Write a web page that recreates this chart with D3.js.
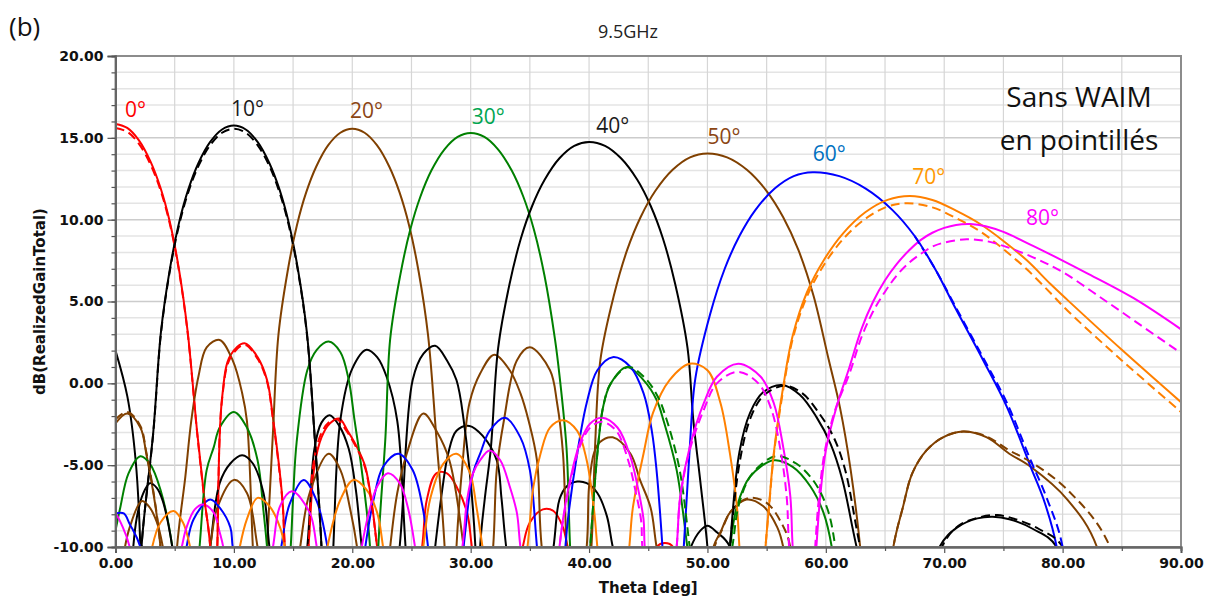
<!DOCTYPE html>
<html><head><meta charset="utf-8">
<script src="https://cdn.jsdelivr.net/npm/d3@7"></script>
<style>body{margin:0;background:#fff}svg{display:block}</style>
</head><body>
<svg id="c" width="1211" height="600"></svg>
<script>
// ---- data (theta [deg], dB); -20 marks a null below the axis ----
const thetaTicks = [0,10,20,30,40,50,60,70,80,90];
const dbTicks = [-10,-5,0,5,10,15,20];
const beamLabels = ["0°","10°","20°","30°","40°","50°","60°","70°","80°"];
const labelTheta = [0.8,9.75,19.8,30.1,40.6,50.0,58.9,67.3,76.9];
const labelDb = [16.27,16.33,16.2,15.85,15.3,14.6,13.6,12.2,9.7];

const red0 = [[0,15.85],[0.99,15.61],[1.98,14.85],[2.96,13.55],[3.8,11.95],[4.56,9.95],[5.32,7.15],[6.08,3.25],[6.9,-3],[7.5,-7],[8.0,-10],[8.3,-20],[8.6,-10],[9.0,-0.9],[9.7,1.7],[10.9,2.45],[12.0,1.6],[12.8,0.2],[13.3,-2.1],[14.1,-7.1],[14.3,-10],[15.3,-20],[16.3,-10],[16.8,-5.1],[17.4,-3.3],[18.1,-2.45],[18.9,-2.15],[19.6,-2.9],[20.4,-3.9],[21.1,-5.1],[21.7,-7.6],[22.1,-10],[24,-20],[25.9,-10],[26.3,-7.1],[27.1,-5.5],[28,-5.5],[28.8,-6.3],[29.7,-7.9],[30.1,-10],[32,-20],[34.4,-10],[35,-8.5],[36.1,-7.7],[37,-7.8],[37.8,-8.8],[38.2,-10],[42,-20],[45.7,-10],[46.4,-9.76],[47.1,-10],[48,-20]];
const red0Dash = [[0,15.6],[0.99,15.37],[1.98,14.63],[2.96,13.37],[3.8,11.8],[4.56,9.83],[5.32,7.05],[6.08,3.18],[6.9,-3.05],[7.5,-7.05],[8.0,-10],[8.3,-20],[8.6,-10],[9.0,-1.0],[9.7,1.55],[10.9,2.35],[12.0,1.5],[12.8,0.1],[13.3,-2.2],[14.1,-7.2],[14.3,-10],[15.3,-20],[16.3,-10],[16.7,-5.0],[17.3,-3.2],[18.0,-2.4],[18.7,-2.2],[19.5,-2.9],[20.4,-4.0],[21.1,-5.2],[21.7,-7.7],[22.1,-10],[24,-20]];

const black10 = [[0,2.0],[1.0,-0.8],[1.7,-4.7],[2.1,-10],[2.15,-13],[2.2,-10],[3.2,-2.9],[3.84,3.15],[4.61,7.05],[5.38,9.85],[6.15,11.85],[7.0,13.45],[8.0,14.75],[9.0,15.51],[10,15.75],[11,15.51],[12,14.75],[13,13.45],[13.85,11.85],[14.62,9.85],[15.39,7.05],[16.16,3.15],[16.8,-3.0],[17.4,-10],[17.9,-20],[18.4,-10],[19.0,-2.2],[20.0,0.9],[21.2,2.05],[22.1,1.6],[22.9,0.4],[23.8,-2.3],[24.5,-10],[25.5,-20],[27.0,-10],[27.6,-6.5],[28.1,-4.3],[28.8,-2.9],[29.9,-2.6],[31,-3.2],[32.2,-4.7],[32.6,-7],[33,-10],[35,-20],[37,-10],[37.5,-7.1],[38.1,-6.3],[39,-6.0],[39.8,-6.1],[40.7,-6.7],[41.5,-8.1],[42,-10],[45,-20],[48.6,-10],[49.4,-9.0],[50.0,-8.7],[50.8,-9.1],[51.9,-10],[53,-20]];
const black10Dash = [[2.15,-13],[2.2,-10],[3.2,-2.95],[3.84,3.05],[4.61,6.95],[5.38,9.7],[6.15,11.68],[7.0,13.27],[8.0,14.56],[9.0,15.31],[10,15.55],[11,15.31],[12,14.56],[13,13.27],[13.85,11.68],[14.62,9.7],[15.39,6.95],[16.16,3.05],[16.8,-3.05],[17.4,-10],[17.9,-20]];
const black40 = [[1.5,-10],[1.8,-8.2],[2.3,-6.8],[2.9,-6.1],[3.5,-6.4],[4.0,-7.2],[4.8,-10],[6.4,-20],[8.0,-10],[8.8,-6.1],[9.7,-4.9],[10.7,-4.4],[11.6,-4.9],[12.5,-6.7],[13,-10],[14.6,-20],[16.2,-10],[16.8,-4.0],[17.4,-2.4],[18.1,-1.95],[18.9,-2.6],[19.7,-4.0],[20.3,-6.5],[20.8,-10],[22.4,-20],[24,-10],[25.1,0.2],[26,1.8],[27,2.3],[28,1.4],[28.8,0.2],[29.4,-2.2],[30.4,-10],[30.6,-20],[30.8,-10],[31.2,-7],[31.7,-4],[32.32,2.15],[33.28,6.05],[34.24,8.85],[35.2,10.85],[36.26,12.45],[37.5,13.75],[38.75,14.51],[40,14.75],[41.35,14.51],[42.7,13.75],[44.06,12.45],[45.2,10.85],[46.24,8.85],[47.28,6.05],[48.32,2.15],[48.8,-2.2],[49.4,-6],[50,-10],[51,-20],[51.9,-10],[52.7,-4.2],[53.6,-1.8],[54.7,-0.55],[56.3,-0.1],[57.8,-0.7],[59.2,-2.05],[60.4,-3.7],[61.4,-5.9],[62.6,-10],[66,-20],[69.6,-10],[71.1,-8.8],[72.8,-8.25],[74.1,-8.15],[75.5,-8.3],[77.5,-8.9],[79.5,-10],[82,-20]];
const black40Dash = [[51,-20],[51.9,-10],[52.8,-4.5],[53.7,-2.0],[54.8,-0.7],[56.5,-0.15],[58,-0.6],[59.4,-1.8],[60.6,-3.2],[61.6,-5.2],[62.9,-10],[66,-20],[69.8,-10],[71.2,-8.7],[72.9,-8.2],[74.5,-8.05],[76,-8.3],[78,-8.9],[80,-10],[82,-20]];

const brown20 = [[0,-2.45],[1.0,-1.85],[2.1,-2.7],[2.6,-4.3],[3.2,-6.7],[3.8,-10],[4.5,-20],[5.2,-10],[5.9,-5.7],[6.4,-2.3],[7.0,0.4],[7.7,2.2],[8.8,2.65],[9.9,1.4],[10.7,-0.6],[11.1,-2.3],[11.6,-10],[12.2,-20],[12.8,-10],[13.3,-3],[13.76,2.95],[14.54,6.85],[15.32,9.65],[16.1,11.65],[16.96,13.25],[17.97,14.55],[18.99,15.31],[20,15.55],[21.04,15.31],[22.08,14.55],[23.12,13.25],[24.0,11.65],[24.8,9.65],[25.6,6.85],[26.4,2.95],[27.1,-3.3],[27.8,-10],[28.3,-20],[28.8,-10],[29.3,-5],[29.9,-1.2],[30.8,0.6],[32,1.75],[33.3,0.8],[34.2,-0.6],[34.9,-2.3],[35.6,-4.7],[36,-10],[38,-20],[39.8,-10],[40,-6.3],[40.4,-4.3],[40.9,-3.6],[42,-3.3],[43.5,-4.3],[44.3,-5.9],[45.2,-7.6],[45.7,-10],[48,-20],[50.5,-10],[51.1,-9.1],[51.9,-7.9],[53.3,-7.1],[54.7,-7.5],[55.9,-8.8],[56.4,-10],[58,-20]];
const brown20Dash = [[0,-2.2],[1.0,-1.75],[2.1,-2.6],[2.6,-4.2],[3.2,-6.6],[3.8,-10],[4.5,-20],[48,-20],[50.6,-10],[51.2,-9.0],[52,-7.8],[53.5,-7.0],[55,-7.3],[56.3,-8.6],[57,-10],[58,-20]];
const brown50 = [[0.8,-10],[1.2,-8.8],[2.2,-7.2],[2.8,-7.5],[3.5,-8.5],[4.0,-10],[6,-20],[8,-10],[8.6,-7.6],[10,-5.9],[11.1,-6.7],[12,-10],[14,-20],[15.6,-10],[16.4,-6.7],[18,-4.3],[19,-5.3],[19.8,-7.6],[20.4,-10],[21.8,-20],[23.2,-10],[23.8,-6.7],[24.6,-4.3],[26,-1.85],[27.1,-2.9],[28.2,-4.7],[29.4,-10],[30.6,-20],[31.9,-10],[32.2,-5.3],[32.8,-2.3],[33.9,1.4],[35,2.2],[36.7,0.8],[37.3,-1.2],[37.8,-4.3],[38.1,-10],[39,-20],[40.2,-10],[40.5,-4],[40.96,1.45],[42.09,5.35],[43.22,8.15],[44.35,10.15],[45.59,11.75],[47.06,13.05],[48.53,13.81],[50,14.05],[51.66,13.81],[53.33,13.05],[55.0,11.75],[56.4,10.15],[57.68,8.15],[58.96,5.35],[60.24,1.45],[61.2,-1.5],[62.1,-5.3],[62.9,-10],[64,-20],[65.7,-10],[66.5,-7.6],[67.3,-5.5],[68.5,-4.1],[69.9,-3.3],[71.6,-2.95],[73.6,-3.3],[75.5,-4.3],[77.3,-5.1],[80.4,-7.1],[82.9,-10],[85,-20]];
const brown50Dash = [[64,-20],[65.7,-10],[66.5,-7.6],[67.3,-5.5],[68.5,-4.1],[69.9,-3.3],[71.6,-2.95],[73.6,-3.25],[75.5,-4.1],[77.3,-4.8],[80.4,-6.5],[84,-10],[86,-20]];

const green30 = [[0,-9.0],[0.4,-7.6],[1.1,-5.5],[2.1,-4.45],[2.9,-4.9],[3.8,-6.5],[4.8,-10],[6,-20],[7.1,-10],[7.7,-5.3],[8.3,-3.9],[8.8,-2.7],[10,-1.75],[11.1,-2.7],[12,-4.7],[12.5,-7.8],[12.8,-10],[13.8,-20],[14.8,-10],[15.0,-7],[15.3,-3.6],[16.2,0.8],[17,2.05],[18,2.55],[19,1.9],[19.7,0.2],[20.2,-2.3],[20.8,-5.3],[21.5,-10],[21.9,-20],[22.2,-10],[22.8,-3.3],[23.2,2.7],[24.05,6.6],[24.9,9.4],[25.75,11.4],[26.68,13.0],[27.79,14.3],[28.9,15.06],[30,15.3],[31.16,15.06],[32.31,14.3],[33.47,13.0],[34.45,11.4],[35.34,9.4],[36.23,6.6],[37.12,2.7],[37.5,0.5],[38.1,-4],[38.4,-10],[39.2,-20],[40.1,-10],[40.7,-4.3],[41.2,-1.4],[41.8,-0.05],[43.2,1.0],[44.6,0.2],[45.7,-1.0],[46.3,-2.3],[47.4,-5.3],[48.3,-10],[50,-20],[51.9,-10],[52.5,-7.5],[53.6,-5.7],[55.6,-4.7],[57.2,-5.1],[58.7,-6.3],[59.8,-7.9],[60.5,-10],[62,-20]];
const green30Dash = [[39.2,-20],[40.1,-10],[40.7,-4.3],[41.2,-1.4],[41.8,-0.05],[43.3,1.0],[44.7,0.35],[45.8,-0.8],[46.5,-2.1],[47.6,-5.1],[48.5,-10],[50,-20],[52.1,-10],[52.7,-7.3],[53.8,-5.5],[55.8,-4.45],[57.5,-4.9],[59,-6.0],[60.1,-7.6],[60.8,-10],[62,-20]];

const blue60 = [[0,-7.95],[0.7,-7.95],[1.2,-8.6],[2.1,-10],[4,-20],[6,-10],[6.6,-8.3],[8,-7.1],[8.8,-7.6],[9.7,-8.8],[9.9,-10],[12,-20],[14.0,-10],[14.7,-7.4],[15.9,-5.9],[17,-7.2],[17.9,-10],[19.5,-20],[21.1,-10],[21.8,-7.1],[22.6,-5.1],[23.9,-4.3],[25.1,-5.3],[26,-7.8],[26.4,-10],[28,-20],[29.4,-10],[30.2,-5.5],[30.8,-4.3],[31.6,-2.9],[32.9,-2.1],[34.2,-3.3],[35,-5.3],[35.6,-10],[36.8,-20],[38,-10],[38.2,-8.4],[39,-4.3],[39.8,-1.2],[40.7,0.8],[42,1.6],[43.5,1.0],[44.6,-0.6],[45.3,-2.9],[45.7,-5.3],[46.2,-10],[47,-20],[48,-10],[48.5,-4],[48.98,0.3],[50.22,4.2],[51.46,7.0],[52.7,9.0],[54.06,10.6],[55.68,11.9],[57.29,12.66],[58.9,12.9],[61.14,12.66],[63.37,11.9],[65.61,10.6],[67.5,9.0],[69.22,7.0],[70.94,4.6],[73.3,1.4],[75.3,-1.45],[77.3,-5.1],[78.4,-7.1],[79.5,-10],[81,-20]];
const blue60Dash = [[67.5,9.0],[69.22,7.0],[70.94,4.7],[73.3,1.55],[75.3,-1.2],[77.3,-4.7],[78.6,-6.9],[80,-10],[81,-20]];

const orange70 = [[3.1,-10],[3.8,-8.5],[4.9,-7.8],[5.7,-8.5],[6.3,-10],[8.4,-20],[10.5,-10],[11.1,-8.3],[12,-7.0],[13,-7.5],[13.9,-8.8],[14.3,-10],[16,-20],[17.9,-10],[19,-7.1],[20.1,-5.9],[21.2,-6.5],[22.1,-7.9],[22.6,-10],[24.3,-20],[26,-10],[26.6,-7],[27.7,-4.9],[28.8,-4.3],[29.9,-5.4],[30.5,-7.6],[31,-10],[33,-20],[34.8,-10],[35.3,-6.3],[35.9,-4.3],[36.7,-2.7],[37.8,-2.25],[39,-2.9],[39.8,-4.7],[40.4,-7.6],[40.7,-10],[42,-20],[43.4,-10],[43.7,-7.6],[44.6,-4.3],[45.4,-1.8],[46.8,0.2],[48.5,1.2],[50,0.8],[51.1,-1.2],[51.9,-4.3],[52.5,-7.6],[52.7,-10],[53.8,-20],[54.9,-10],[55.2,-7.5],[55.6,-4.3],[56.4,-0.2],[57.2,2.9],[58.4,5.55],[59.85,7.55],[61.44,9.15],[63.33,10.45],[65.21,11.21],[67.1,11.45],[69,11.2],[71,10.55],[73,9.75],[75,8.7],[77,7.5],[79,6.05],[80.4,5.1],[85,2.05],[90,-1.15]];
const orange70Dash = [[53.8,-20],[54.9,-10],[55.2,-7.6],[55.6,-4.4],[56.4,-0.4],[57.2,2.7],[58.4,5.3],[59.85,7.25],[61.44,8.8],[63.33,10.05],[65.21,10.8],[66.9,11.0],[69,10.75],[71,10.1],[73,9.3],[75,8.2],[77,6.95],[79,5.5],[80.4,4.45],[85,1.4],[90,-1.75]];

const magenta80 = [[0,-7.9],[0.5,-8.6],[1.2,-10],[3,-20],[5.6,-10],[6,-8.8],[6.7,-7.7],[7.4,-7.4],[8.3,-7.9],[8.8,-9.1],[9.1,-10],[11,-20],[13.3,-10],[13.9,-7.5],[14.9,-6.6],[16.4,-7.9],[17,-10],[19,-20],[20.8,-10],[21.4,-7.9],[22.1,-6.3],[23,-5.5],[24,-6.1],[24.7,-7.6],[25.3,-10],[27,-20],[29.3,-10],[29.7,-7.1],[30.2,-5.5],[30.8,-4.7],[31.6,-4.1],[32.5,-4.7],[33.3,-6.3],[33.9,-7.9],[34.2,-10],[36,-20],[37.5,-10],[37.8,-8.3],[38.4,-5.9],[39.2,-3.7],[40.1,-2.45],[41.1,-2.1],[42.4,-2.7],[43.5,-4.5],[44.1,-6.3],[44.6,-8.3],[44.7,-10],[46,-20],[47.4,-10],[47.7,-6.9],[48.5,-3.9],[49.7,-1.2],[50.8,0.4],[52.6,1.2],[54.5,0.4],[55.6,-1.2],[56.4,-3.9],[57,-6.9],[57.2,-10],[58.2,-20],[59.2,-10],[59.5,-7.1],[60,-4.1],[60.9,-1.45],[62,1.0],[63,3.3],[64,5.0],[65,6.3],[66,7.3],[67,8.1],[68,8.75],[69,9.2],[70,9.5],[71,9.68],[72.2,9.73],[73.5,9.6],[75,9.25],[77.5,8.4],[80,7.5],[82,6.75],[86,5.2],[90,3.3]];
const magenta80Dash = [[36,-20],[37.5,-10],[37.8,-8.4],[38.4,-6.1],[39.2,-3.9],[40.1,-2.7],[41.1,-2.35],[42.3,-2.9],[43.3,-4.7],[43.9,-6.5],[44.4,-8.4],[44.5,-10],[46,-20],[47.4,-10],[47.7,-7.0],[48.5,-4.1],[49.7,-1.6],[50.8,0],[52.6,0.7],[54.3,0],[55.4,-1.6],[56.2,-4.2],[56.7,-7.0],[56.9,-10],[58.2,-20],[59.1,-10],[59.4,-7.1],[59.9,-4.2],[60.8,-1.6],[62,0.6],[63,2.8],[64,4.4],[65,5.6],[66,6.6],[67,7.35],[68,7.9],[69,8.35],[70,8.6],[71.9,8.8],[73.5,8.7],[75,8.4],[77.5,7.7],[80,6.8],[83.1,5.3],[86.5,3.6],[90,1.85]];

const seriesSolid = [red0, black10, brown20, green30, black40, brown50, blue60, orange70, magenta80];
const seriesDash  = [red0Dash, black10Dash, brown20Dash, green30Dash, black40Dash, brown50Dash, blue60Dash, orange70Dash, magenta80Dash];

// ---- styles ----
const lineColors  = ["#ff0000","#000000","#804000","#008000","#000000","#804000","#0000ff","#ff8000","#ff00ff"];
const labelColors = ["#ff0000","#1a1a1a","#8b4513","#00a550","#1a1a1a","#8b4513","#0070c0","#ff9900","#ff00ff"];

const svg = d3.select("#c");
const L = 115.5, R = 1181, T = 56, B = 547;
const x = d3.scaleLinear().domain([0,90]).range([L,R]);
const y = d3.scaleLinear().domain([-10,20]).range([B,T]);

// grid
const g = svg.append("g");
g.selectAll(".hg").data(d3.range(-10,21,1)).join("line")
  .attr("x1",L).attr("x2",R).attr("y1",d=>y(d)).attr("y2",d=>y(d))
  .attr("stroke",d=> d%5===0 ? "#cccccc" : "#e4e4e4").attr("stroke-width",1.5);
g.selectAll(".vg").data(d3.range(0,91,5)).join("line")
  .attr("y1",T).attr("y2",B).attr("x1",d=>x(d)).attr("x2",d=>x(d))
  .attr("stroke","#d6d6d6").attr("stroke-width",1.2);

// curves
svg.append("clipPath").attr("id","clip").append("rect")
  .attr("x",L).attr("y",T).attr("width",R-L).attr("height",B-T);
const line = d3.line().x(d=>x(d[0])).y(d=>y(d[1])).curve(d3.curveCatmullRom.alpha(0.5));
const plot = svg.append("g").attr("clip-path","url(#clip)");
seriesSolid.forEach((s,i)=>{
  plot.append("path").attr("d",line(s)).attr("fill","none")
    .attr("stroke",lineColors[i]).attr("stroke-width",2).attr("stroke-linejoin","round");
});
seriesDash.forEach((s,i)=>{
  plot.append("path").attr("d",line(s)).attr("fill","none")
    .attr("stroke",lineColors[i]).attr("stroke-width",2).attr("stroke-dasharray","9,5");
});

// frame
svg.append("rect").attr("x",L).attr("y",T).attr("width",R-L).attr("height",B-T)
  .attr("fill","none").attr("stroke","#8c8c8c").attr("stroke-width",2);

// axes
const fmt = d => d.toFixed(2);
const ya = svg.append("g").attr("transform",`translate(${L},0)`)
  .call(d3.axisLeft(y).tickValues(dbTicks).tickFormat(fmt).tickSize(8).tickPadding(4));
const yam = svg.append("g").attr("transform",`translate(${L},0)`)
  .call(d3.axisLeft(y).tickValues(d3.range(-10,21,1)).tickFormat("").tickSize(4));
const xa = svg.append("g").attr("transform",`translate(0,${B})`)
  .call(d3.axisBottom(x).tickValues(thetaTicks).tickFormat(fmt).tickSize(6).tickPadding(5));
const xam = svg.append("g").attr("transform",`translate(0,${B})`)
  .call(d3.axisBottom(x).tickValues(d3.range(5,91,10)).tickFormat("").tickSize(4));
[ya,yam,xa,xam].forEach(a=>{
  a.select(".domain").attr("stroke","#666").attr("stroke-width",2);
  a.selectAll(".tick line").attr("stroke","#555").attr("stroke-width",1.2);
  a.selectAll("text").attr("font-family","DejaVu Sans, sans-serif")
    .attr("font-weight","bold").attr("font-size",14).attr("fill","#111");
});

// titles
svg.append("text").attr("x",628).attr("y",38).attr("text-anchor","middle")
  .attr("font-family","Open Sans, sans-serif").attr("font-size",18).attr("fill","#222").text("9.5GHz");
svg.append("text").attr("x",9).attr("y",36)
  .attr("font-family","Open Sans, sans-serif").attr("font-size",26).attr("fill","#111").text("(b)");
svg.append("text").attr("x",(L+R)/2).attr("y",593).attr("text-anchor","middle")
  .attr("font-family","DejaVu Sans, sans-serif").attr("font-weight","bold").attr("font-size",15)
  .attr("fill","#111").text("Theta [deg]");
svg.append("text").attr("transform",`translate(45,${(T+B)/2}) rotate(-90)`).attr("text-anchor","middle")
  .attr("font-family","DejaVu Sans, sans-serif").attr("font-weight","bold").attr("font-size",15)
  .attr("fill","#111").text("dB(RealizedGainTotal)");

// beam labels
svg.selectAll(".bl").data(beamLabels).join("text")
  .attr("x",(d,i)=>x(labelTheta[i])).attr("y",(d,i)=>y(labelDb[i]))
  .attr("font-family","Open Sans, sans-serif").attr("font-size",21)
  .attr("fill",(d,i)=>labelColors[i]).text(d=>d);

// note
const note = svg.append("text").attr("text-anchor","middle")
  .attr("font-family","Open Sans, sans-serif").attr("font-size",28).attr("fill","#111");
note.append("tspan").attr("x",1079).attr("y",107).text("Sans WAIM");
note.append("tspan").attr("x",1079).attr("y",150).text("en pointillés");
</script>
</body></html>
